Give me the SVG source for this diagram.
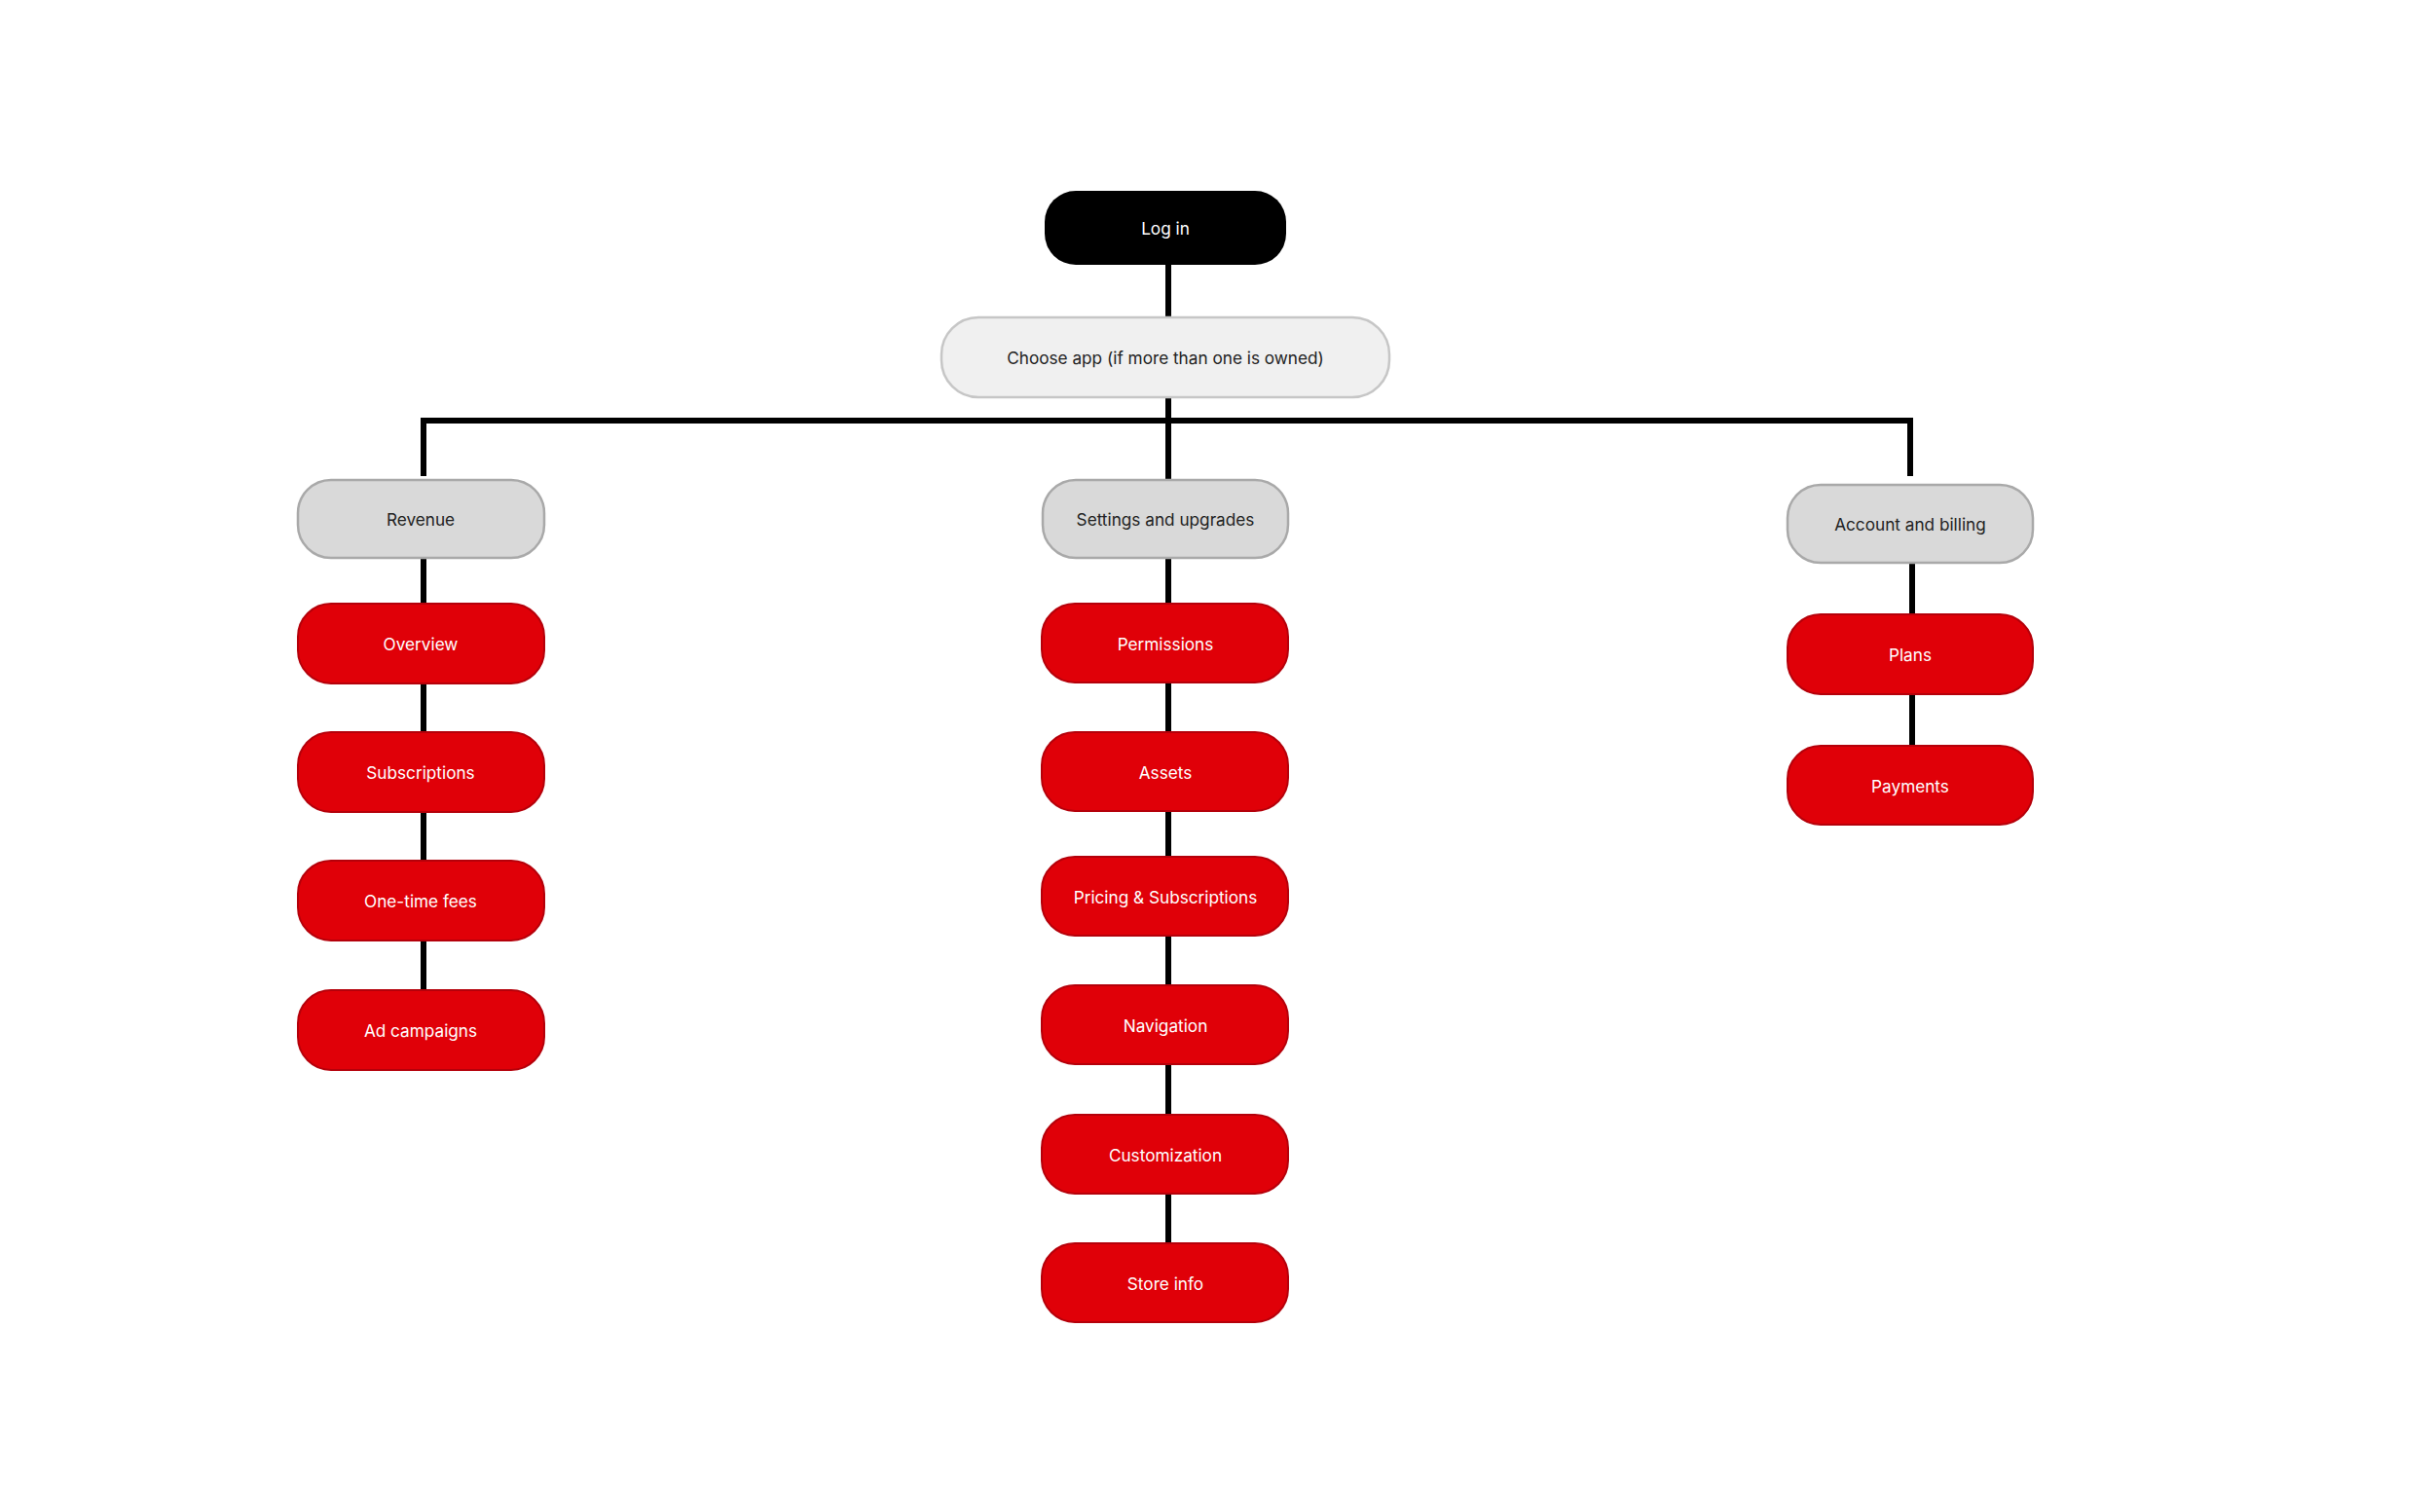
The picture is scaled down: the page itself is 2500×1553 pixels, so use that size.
<svg xmlns="http://www.w3.org/2000/svg" width="2500" height="1553" viewBox="0 0 2500 1553">
<style>
text{font-family:Inter,"Noto Sans","Liberation Sans",sans-serif;font-size:17.2px;text-anchor:middle;dominant-baseline:central}
.red rect{fill:#E00008;stroke:#B5000A;stroke-width:2}
.red text{fill:#FFFFFF}
.gray rect{fill:#D9D9D9;stroke:#A9A9A9;stroke-width:2.5}
.gray text{fill:#222222}
.conn{stroke:#000000;stroke-width:6;fill:none}
</style>
<rect width="2500" height="1553" fill="#FFFFFF"/>
<g id="connectors" class="conn">
<path d="M1200 270 V327"/>
<path d="M1200 406 V495"/>
<path d="M435 489 V432 H1962 V489"/>
<path d="M435 571 V622"/>
<path d="M435 700 V754"/>
<path d="M435 832 V886"/>
<path d="M435 963 V1019"/>
<path d="M1200 571 V623"/>
<path d="M1200 699 V754"/>
<path d="M1200 831 V882"/>
<path d="M1200 959 V1014"/>
<path d="M1200 1091 V1147"/>
<path d="M1200 1224 V1279"/>
<path d="M1964 576 V633"/>
<path d="M1964 711 V768"/>
</g>
<g id="login"><rect x="1073" y="196" width="248" height="76" rx="32" fill="#000000"/><text x="1197" y="234" fill="#FFFFFF">Log in</text></g>
<g id="choose"><rect x="967" y="326" width="460" height="82" rx="38" fill="#F0F0F0" stroke="#C6C6C6" stroke-width="2.5"/><text x="1197" y="367" fill="#222222">Choose app (if more than one is owned)</text></g>
<g id="revenue" class="gray"><rect x="306" y="493" width="253" height="80" rx="34"/><text x="432" y="533">Revenue</text></g>
<g id="settings" class="gray"><rect x="1071" y="493" width="252" height="80" rx="34"/><text x="1197" y="533">Settings and upgrades</text></g>
<g id="account" class="gray"><rect x="1836" y="498" width="252" height="80" rx="34"/><text x="1962" y="538">Account and billing</text></g>
<g id="overview" class="red"><rect x="306" y="620" width="253" height="82" rx="34"/><text x="432" y="661">Overview</text></g>
<g id="subscriptions" class="red"><rect x="306" y="752" width="253" height="82" rx="34"/><text x="432" y="793">Subscriptions</text></g>
<g id="onetime" class="red"><rect x="306" y="884" width="253" height="82" rx="34"/><text x="432" y="925">One-time fees</text></g>
<g id="ads" class="red"><rect x="306" y="1017" width="253" height="82" rx="34"/><text x="432" y="1058">Ad campaigns</text></g>
<g id="permissions" class="red"><rect x="1070" y="620" width="253" height="81" rx="34"/><text x="1197" y="661">Permissions</text></g>
<g id="assets" class="red"><rect x="1070" y="752" width="253" height="81" rx="34"/><text x="1197" y="793">Assets</text></g>
<g id="pricing" class="red"><rect x="1070" y="880" width="253" height="81" rx="34"/><text x="1197" y="921">Pricing &amp; Subscriptions</text></g>
<g id="navigation" class="red"><rect x="1070" y="1012" width="253" height="81" rx="34"/><text x="1197" y="1053">Navigation</text></g>
<g id="customization" class="red"><rect x="1070" y="1145" width="253" height="81" rx="34"/><text x="1197" y="1186">Customization</text></g>
<g id="storeinfo" class="red"><rect x="1070" y="1277" width="253" height="81" rx="34"/><text x="1197" y="1318">Store info</text></g>
<g id="plans" class="red"><rect x="1836" y="631" width="252" height="82" rx="34"/><text x="1962" y="672">Plans</text></g>
<g id="payments" class="red"><rect x="1836" y="766" width="252" height="81" rx="34"/><text x="1962" y="807">Payments</text></g>
</svg>
